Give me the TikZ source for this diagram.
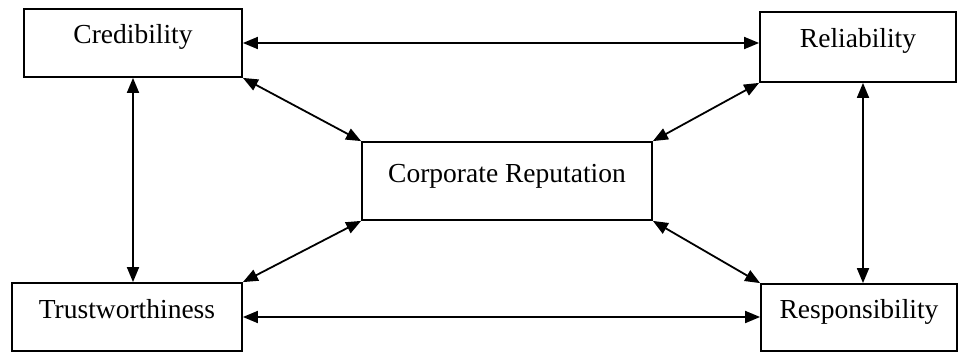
\documentclass[tikz,border=0pt]{standalone}
\usepackage{fontspec}
\setmainfont{Liberation Serif}
\usetikzlibrary{arrows.meta}

\tikzset{
  factor/.style={draw, line width=1.8pt, inner sep=0pt, text height=19pt, text depth=17pt,
    font=\fontsize{27.5}{33}\selectfont},
  link/.style={<->, line width=1.8pt}
}

\begin{document}
\begin{tikzpicture}[x=1pt, y=-1pt, >={Triangle[length=15pt, width=12pt]}]

\useasboundingbox (0,0) rectangle (959,353);

\node [factor, minimum width=218pt, minimum height=68pt] (cred) at (133,43) {Credibility};
\node [factor, minimum width=196pt, minimum height=70pt] (rel) at (858,47) {Reliability};
\node [factor, minimum width=290pt, minimum height=78pt] (corp) at (507,181) {Corporate Reputation};
\node [factor, minimum width=230pt, minimum height=68pt] (trust) at (127,317) {Trustworthiness};
\node [factor, minimum width=196pt, minimum height=67pt] (resp) at (859,317.5) {Responsibility};

\draw [link] (cred.east) -- (cred.east -| rel.west);
\draw [link] (trust.east) -- (trust.east -| resp.west);

\draw [link] (cred.south) -- (cred.south |- trust.north);
\draw [link] ([xshift=5pt]rel.south) -- ([xshift=5pt]rel.south |- resp.north);

\draw [link] (cred.south east) -- (corp.north west);
\draw [link] (rel.south west) -- (corp.north east);
\draw [link] (trust.north east) -- (corp.south west);
\draw [link] (resp.north west) -- (corp.south east);

\end{tikzpicture}
\end{document}
